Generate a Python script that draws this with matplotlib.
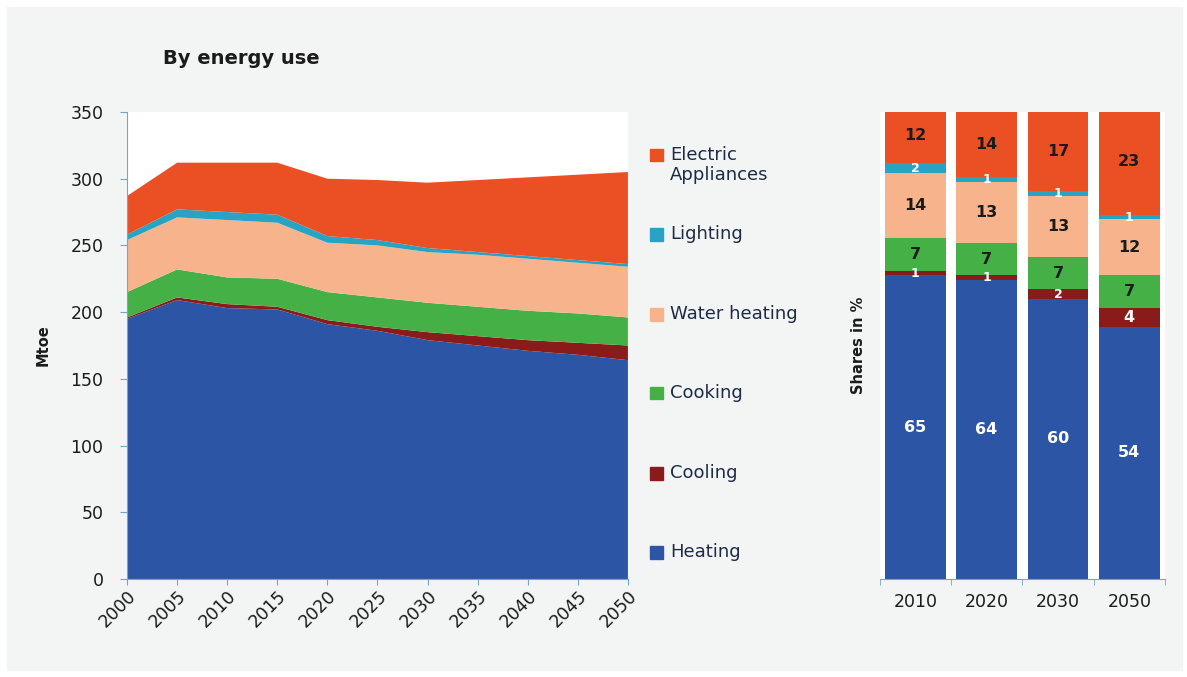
import numpy as np
import matplotlib.pyplot as plt
from matplotlib.patches import Rectangle

plt.rcParams['font.family'] = ['DejaVu Sans']

# residential final energy by end use, Mtoe
years = [2000, 2005, 2010, 2015, 2020, 2025, 2030, 2035, 2040, 2045, 2050]
heating = [195, 209, 203, 202, 191, 186, 179, 175, 171, 168, 164]
cooling = [1, 2, 3, 2, 3, 3, 6, 7, 8, 9, 11]
cooking = [19, 21, 20, 21, 21, 22, 22, 22, 22, 22, 21]
water_heating = [39, 39, 43, 42, 37, 39, 38, 39, 39, 38, 38]
lighting = [4, 6, 6, 6, 5, 4, 3, 2, 2, 2, 2]
appliances = [29, 35, 37, 39, 43, 45, 49, 54, 59, 64, 69]

# shares in %
share_years = ['2010', '2020', '2030', '2050']
sh_heating = [65, 64, 60, 54]
sh_cooling = [1, 1, 2, 4]
sh_cooking = [7, 7, 7, 7]
sh_water = [14, 13, 13, 12]
sh_lighting = [2, 1, 1, 1]
sh_appliances = [12, 14, 17, 23]

labels = ['Heating', 'Cooling', 'Cooking', 'Water heating', 'Lighting',
          'Electric\nAppliances']
colors = ['#2c55a6', '#8a1b1b', '#45b046', '#f7b48c', '#27a4c4', '#eb5024']

bg = '#f3f5f5'
txt = '#1b1b1b'
spine_col = '#6fa8c8'

fig = plt.figure(figsize=(11.87, 6.77), dpi=100, facecolor='white')
# grey panel inside a thin white margin
fig.add_artist(Rectangle((0.006, 0.010), 0.990, 0.980,
                         transform=fig.transFigure, color=bg, zorder=-10))

# --- stacked area ---
ax = fig.add_axes([0.107, 0.1448, 0.422, 0.6898])
ax.set_facecolor('white')
ax.stackplot(years, heating, cooling, cooking, water_heating, lighting,
             appliances, colors=colors, linewidth=0)
ax.set_xlim(2000, 2050)
ax.set_ylim(0, 350)
ax.set_xticks(years)
ax.set_yticks(range(0, 351, 50))
ax.tick_params(axis='x', labelsize=12.5, rotation=45, colors=spine_col,
               labelcolor=txt, length=4, pad=2)
ax.tick_params(axis='y', labelsize=12.5, colors=spine_col, labelcolor=txt,
               length=5, pad=12)
for lab in ax.get_xticklabels():
    lab.set_ha('right')
    lab.set_rotation_mode('anchor')
for s in ['top', 'right']:
    ax.spines[s].set_visible(False)
for s in ['left', 'bottom']:
    ax.spines[s].set_color(spine_col)
ax.set_ylabel('Mtoe', fontsize=10.5, fontweight='bold', color=txt,
              labelpad=14)
fig.text(0.137, 0.905, 'By energy use', fontsize=14, fontweight='bold',
         color=txt)

# legend, drawn by hand to keep the wide spacing
leg_y = [0.184, 0.301, 0.4195, 0.536, 0.654, 0.771]
for lab, c, y in zip(labels, colors, leg_y):
    fig.add_artist(Rectangle((0.548, y - 0.0095), 0.0105, 0.019,
                             transform=fig.transFigure, color=c))
    fig.text(0.5645, y + 0.014, lab, fontsize=13, color='#1d2b45',
             va='top', linespacing=1.15)

# --- shares bars ---
bx = fig.add_axes([0.741, 0.1448, 0.2405, 0.6898])
bx.set_facecolor('white')
xpos = np.arange(len(share_years))
shares = [sh_heating, sh_cooling, sh_cooking, sh_water, sh_lighting,
          sh_appliances]
lab_colors = ['white', 'white', txt, txt, 'white', txt]
bottom = np.zeros(len(share_years))
for vals, c, lc in zip(shares, colors, lab_colors):
    vals = np.array(vals, dtype=float)
    bx.bar(xpos, vals, width=0.85, bottom=bottom, color=c, linewidth=0)
    for x, v, b in zip(xpos, vals, bottom):
        fs = 9 if v < 3 else 11.5
        bx.text(x, b + v / 2, f'{v:g}', ha='center', va='center',
                fontsize=fs, fontweight='bold', color=lc)
    bottom += vals
bx.set_xlim(-0.5, len(share_years) - 0.5)
bx.set_ylim(0, 100)
bx.set_yticks([])
bx.set_xticks(xpos)
bx.set_xticklabels(share_years, fontsize=12.5, color=txt)
bx.set_xticks(np.arange(-0.5, len(share_years)), minor=True)
bx.tick_params(axis='x', which='major', length=0, pad=10)
bx.tick_params(axis='x', which='minor', length=4, color=spine_col)
for s in ['top', 'right', 'left']:
    bx.spines[s].set_visible(False)
bx.spines['bottom'].set_color(spine_col)
bx.set_ylabel('Shares in %', fontsize=10.5, fontweight='bold', color=txt,
              labelpad=10)

fig.savefig('out.png', dpi=100, facecolor='white')
